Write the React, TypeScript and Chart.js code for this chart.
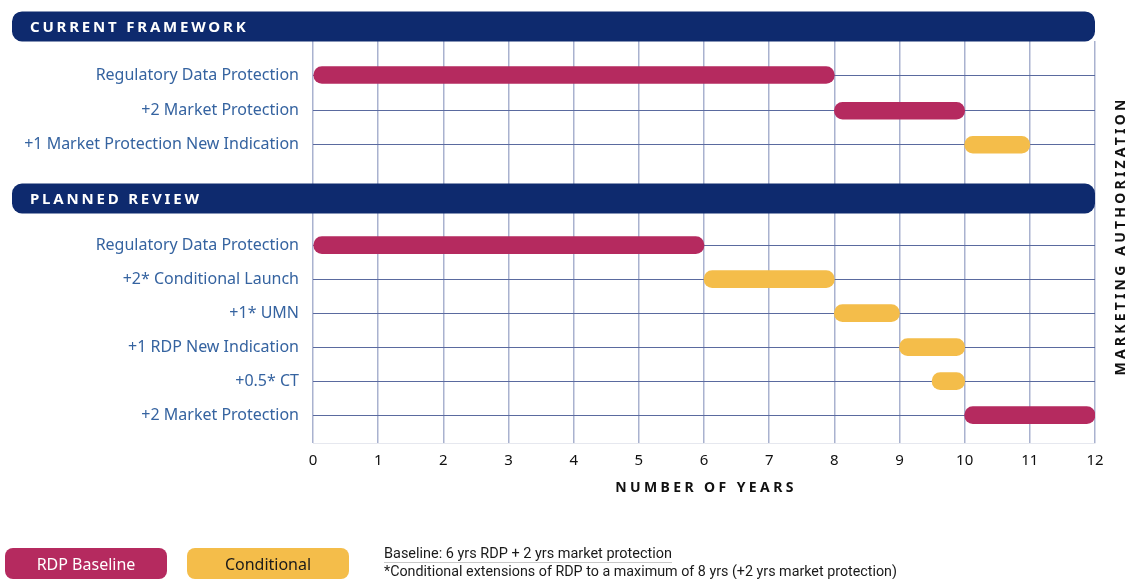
import React, { useEffect, useRef } from "react";
import { Chart, registerables } from "chart.js";

Chart.register(...registerables);

// ---- data ----
const sectionTitles = ["CURRENT FRAMEWORK", "PLANNED REVIEW"];
const sectionRowPos = [-1.43, 3.63];

const rowLabels = [
  "Regulatory Data Protection",
  "+2 Market Protection",
  "+1 Market Protection New Indication",
  "Regulatory Data Protection",
  "+2* Conditional Launch",
  "+1* UMN",
  "+1 RDP New Indication",
  "+0.5* CT",
  "+2 Market Protection",
];
const rowPos = [0, 1.05, 2.05, 5, 6, 7, 8, 9, 10];

// [start, end] in years, null when the row belongs to the other series
const rdpBaseline: ([number, number] | null)[] = [
  [0, 8], [8, 10], null, [0, 6], null, null, null, null, [10, 12],
];
const conditional: ([number, number] | null)[] = [
  null, null, [10, 11], null, [6, 8], [8, 9], [9, 10], [9.5, 10], null,
];

const xTicks = [0, 1, 2, 3, 4, 5, 6, 7, 8, 9, 10, 11, 12];
const xTitle = "NUMBER OF YEARS";
const rightTitle = "MARKETING AUTHORIZATION";
const legendLabels = ["RDP Baseline", "Conditional"];
const notes = [
  "Baseline: 6 yrs RDP + 2 yrs market protection",
  "*Conditional extensions of RDP to a maximum of 8 yrs (+2 yrs market protection)",
];

const NAVY = "#0e2a6e";
const CRIMSON = "#b52a5f";
const YELLOW = "#f4bd4a";
const LABEL_BLUE = "#3563a0";

function roundRect(ctx: CanvasRenderingContext2D, x: number, y: number, w: number, h: number, r: number) {
  ctx.beginPath();
  ctx.moveTo(x + r, y);
  ctx.lineTo(x + w - r, y);
  ctx.arcTo(x + w, y, x + w, y + r, r);
  ctx.lineTo(x + w, y + h - r);
  ctx.arcTo(x + w, y + h, x + w - r, y + h, r);
  ctx.lineTo(x + r, y + h);
  ctx.arcTo(x, y + h, x, y + h - r, r);
  ctx.lineTo(x, y + r);
  ctx.arcTo(x, y, x + r, y, r);
  ctx.closePath();
}

const decorPlugin = {
  id: "decor",
  afterDatasetsDraw(chart: any) {
    const { ctx, chartArea, scales } = chart;
    const y = scales.y;
    const x = scales.x;
    ctx.save();
    // section header bars
    sectionTitles.forEach((t, i) => {
      const cy = y.getPixelForValue(sectionRowPos[i]);
      const h = 30;
      ctx.fillStyle = NAVY;
      roundRect(ctx, 12, cy - h / 2, chartArea.right - 12, h, 10);
      ctx.fill();
      ctx.fillStyle = "#ffffff";
      ctx.font = "bold 15px 'Noto Sans'";
      (ctx as any).letterSpacing = "2.8px";
      ctx.textAlign = "left";
      ctx.textBaseline = "middle";
      ctx.fillText(t, 30, cy + 1);
    });
    // x title
    (ctx as any).letterSpacing = "3.4px";
    ctx.fillStyle = "#111111";
    ctx.font = "bold 14px 'Noto Sans'";
    ctx.textAlign = "center";
    ctx.textBaseline = "middle";
    ctx.fillText(xTitle, (chartArea.left + chartArea.right) / 2 + 2, x.bottom - 15);
    // right vertical title
    ctx.save();
    ctx.translate(1121, 236);
    ctx.rotate(-Math.PI / 2);
    ctx.font = "bold 14px 'Noto Sans'";
    (ctx as any).letterSpacing = "3.2px";
    ctx.fillText(rightTitle, 0, 0);
    ctx.restore();
    (ctx as any).letterSpacing = "0px";
    // legend pills
    const pills = [
      { x: 5, color: CRIMSON, text: "#ffffff" },
      { x: 187, color: YELLOW, text: "#1a1a1a" },
    ];
    pills.forEach((p, i) => {
      ctx.fillStyle = p.color;
      roundRect(ctx, p.x, 548, 162, 31, 8);
      ctx.fill();
      ctx.fillStyle = p.text;
      ctx.font = "16px 'Noto Sans'";
      ctx.textAlign = "center";
      ctx.textBaseline = "middle";
      ctx.fillText(legendLabels[i], p.x + 81, 565);
    });
    // notes
    ctx.fillStyle = "#1a1a1a";
    ctx.font = "15px 'Roboto'";
    ctx.textAlign = "left";
    ctx.textBaseline = "middle";
    ctx.fillText(notes[0], 384, 554, 288);
    ctx.strokeStyle = "#c8c8c8";
    ctx.lineWidth = 1;
    ctx.beginPath();
    ctx.moveTo(384, 562.5);
    ctx.lineTo(672, 562.5);
    ctx.stroke();
    ctx.fillText(notes[1], 384, 572, 513);
    ctx.restore();
  },
};

function toPoints(vals: ([number, number] | null)[]) {
  const pts: { x: [number, number]; y: number }[] = [];
  vals.forEach((v, i) => {
    if (v) pts.push({ x: v, y: rowPos[i] });
  });
  return pts;
}

export default function App() {
  const ref = useRef<HTMLCanvasElement>(null);
  useEffect(() => {
    const canvas = ref.current!;
    const chart = new Chart(canvas, {
      type: "bar",
      data: {
        datasets: [
          {
            label: legendLabels[0],
            data: toPoints(rdpBaseline) as any,
            backgroundColor: CRIMSON,
            borderRadius: 9,
            borderSkipped: false,
            barThickness: 17,
            grouped: false,
          } as any,
          {
            label: legendLabels[1],
            data: toPoints(conditional) as any,
            backgroundColor: YELLOW,
            borderRadius: 9,
            borderSkipped: false,
            barThickness: 17,
            grouped: false,
          } as any,
        ],
      },
      options: {
        indexAxis: "y",
        responsive: false,
        animation: false,
        layout: { padding: { top: 41, right: 33, bottom: 76, left: 0 } },
        plugins: { legend: { display: false }, tooltip: { enabled: false } },
        scales: {
          x: {
            type: "linear",
            min: 0,
            max: 12,
            afterBuildTicks: (s: any) => {
              s.ticks = xTicks.map((v) => ({ value: v }));
            },
            afterFit: (s: any) => {
              s.height = 60;
            },
            grid: { color: "#a9b2cf", lineWidth: 1.5, drawTicks: false },
            border: { display: true, color: "#e6e8ef", width: 1 },
            ticks: {
              color: "#111111",
              padding: 9,
              font: { family: "'Noto Sans'", size: 15 },
            },
          },
          y: {
            type: "linear",
            reverse: true,
            offset: false,
            min: -1,
            max: 10.82,
            afterBuildTicks: (s: any) => {
              s.ticks = rowPos.map((v) => ({ value: v }));
            },
            afterFit: (s: any) => {
              s.width = 313;
              s.paddingTop = 0;
              s.paddingBottom = 0;
            },
            grid: { color: "#5a6a9f", lineWidth: 1, drawTicks: false, offset: false },
            border: { display: false },
            ticks: {
              color: LABEL_BLUE,
              padding: 14,
              font: { family: "'Noto Sans'", size: 16 },
              callback: (v: any) => {
                const i = rowPos.indexOf(Number(v));
                return i >= 0 ? rowLabels[i] : "";
              },
            },
          },
        },
      },
      plugins: [decorPlugin],
    } as any);
    return () => chart.destroy();
  }, []);
  return (
    <div style={{ position: "fixed", left: 0, top: 0, width: 1128, height: 579, background: "#ffffff" }}>
      <canvas ref={ref} width={1128} height={579} />
    </div>
  );
}
